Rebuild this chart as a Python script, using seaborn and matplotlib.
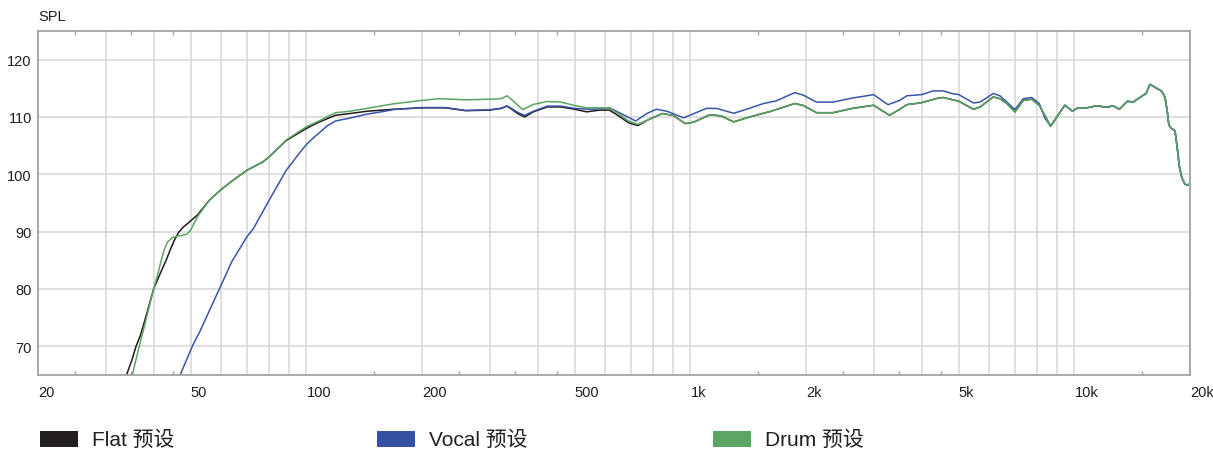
import numpy as np
import pandas as pd
import matplotlib
matplotlib.use("Agg")
import matplotlib.pyplot as plt
from matplotlib.patches import Rectangle
import seaborn as sns

# ---------------- data ----------------
flat_freq = [34.0, 35.2, 36.0, 37.0, 38.5, 40, 41.5, 43.3, 44.3, 45.3, 46.5, 47.8, 49.0, 52.0, 55.9, 60, 64.5, 70,
             77.2, 80, 88.6, 100, 107, 119, 129.6, 143.7, 168.7, 200, 230, 260, 300, 322, 333, 340,
             355, 370, 390, 424, 460, 500, 537, 580, 615, 640, 690, 730]
flat_db = [65.0, 67.8, 70.0, 72.0, 76.0, 80.0, 82.5, 85.3, 87.0, 88.5, 89.9, 90.8, 91.4, 92.9, 95.5, 97.35, 99.0, 100.7,
           102.2, 103.05, 105.9, 108.0, 109.0, 110.3, 110.6, 111.0, 111.35, 111.6, 111.6, 111.1, 111.2, 111.5, 111.9, 111.5,
           110.6, 110.0, 110.9, 111.75, 111.75, 111.35, 110.9, 111.2, 111.2, 110.5, 109.0, 108.5]

vocal_freq = [46.9, 50.6, 52.8, 58.3, 60, 63.9, 70, 72.8, 80, 88.6, 96.4, 100, 104, 107, 113, 119,
              129.6, 143.7, 160, 168.7, 200, 230, 260, 300, 322, 333, 340, 355, 370, 390, 424, 460,
              500, 544, 580, 615, 660, 720, 770, 815, 870, 960, 1100, 1170, 1297, 1400, 1550, 1670,
              1870, 1970, 2130, 2350, 2640, 3000, 3270, 3510, 3660, 4000, 4290, 4560, 4790, 5000,
              5460, 5680, 6150, 6400, 6670, 7000, 7360, 7740, 8100, 8380]
vocal_db = [65.0, 70.2, 72.6, 78.9, 80.7, 84.75, 89.1, 90.55, 95.5, 100.7, 103.9, 105.2, 106.3, 107.0, 108.4, 109.3,
            109.8, 110.5, 111.0, 111.3, 111.65, 111.65, 111.15, 111.25, 111.55, 111.95, 111.6, 110.8, 110.3, 111.0, 111.9, 111.9,
            111.5, 111.35, 111.4, 111.6, 110.6, 109.3, 110.6, 111.35, 111.0, 109.85, 111.5, 111.5, 110.65, 111.35, 112.35, 112.8,
            114.25, 113.8, 112.6, 112.6, 113.3, 113.9, 112.15, 112.9, 113.7, 113.9, 114.55, 114.55, 114.1, 113.9,
            112.45, 112.6, 114.1, 113.7, 112.6, 111.3, 113.2, 113.4, 112.35, 109.8]

drum_freq = [35.2, 36.7, 38.5, 40, 41.0, 41.8, 42.6, 43.5, 44.6, 46.0, 47.5, 48.9, 50, 52, 55.9, 60, 64.5, 70, 77.2,
             80, 88.6, 100, 107, 119, 129.6, 143.7, 168.7, 200, 222, 260, 300, 322, 333, 340, 366,
             390, 424, 460, 500, 537, 580, 615, 650, 690, 730]
drum_db = [65.0, 70.0, 75.5, 80.0, 82.5, 84.8, 86.8, 88.2, 88.9, 89.2, 89.35, 89.6, 90.3, 92.6, 95.5, 97.35, 99.0, 100.7, 102.2,
           103.05, 106.0, 108.3, 109.2, 110.75, 111.0, 111.5, 112.3, 112.9, 113.2, 113.0, 113.1, 113.2, 113.7, 113.2, 111.3,
           112.2, 112.7, 112.6, 112.0, 111.6, 111.6, 111.5, 110.6, 109.3, 108.7]

# segment shared by Flat and Drum (above ~750 Hz)
mid_freq = [770, 845, 900, 970, 1020, 1125, 1200, 1297, 1400, 1620, 1870, 1970, 2130, 2350, 2640, 3000,
            3300, 3510, 3660, 4000, 4420, 4560, 5000, 5460, 5680, 6150, 6400, 6670, 7000, 7360, 7740, 8100]
mid_db = [109.4, 110.6, 110.3, 108.85, 109.1, 110.4, 110.2, 109.15, 109.85, 111.0, 112.35, 112.0, 110.75, 110.75, 111.5, 112.05,
          110.3, 111.35, 112.15, 112.5, 113.3, 113.4, 112.75, 111.35, 111.75, 113.5, 113.2, 112.35, 110.9, 112.9, 113.1, 112.05]

# segment shared by all three presets (above ~8.4 kHz)
high_freq = [8670, 9000, 9440, 9890, 10140, 10760, 11430, 12130, 12620, 13090, 13740, 14230, 15110, 15370,
             15730, 16380, 16880, 17220, 17450, 17620, 17900, 18280, 18500, 18750, 19040, 19400, 19700, 20000]
high_db = [108.4, 110.0, 112.05, 111.0, 111.5, 111.6, 111.95, 111.7, 111.95, 111.35, 112.75, 112.6, 113.8, 114.1,
           115.7, 115.0, 114.5, 113.4, 111.0, 108.6, 108.0, 107.6, 105.0, 101.5, 99.4, 98.3, 98.1, 98.4]

series_names = ["Flat 预设", "Vocal 预设", "Drum 预设"]
series_colors = ["#1e1a1b", "#3a55a8", "#5aa462"]
legend_colors = ["#231f20", "#3551a3", "#5ba665"]

y_ticks = [70, 80, 90, 100, 110, 120]
x_label_ticks = [20, 50, 100, 200, 500, 1000, 2000, 5000, 10000, 20000]
x_labels = ["20", "50", "100", "200", "500", "1k", "2k", "5k", "10k", "20k"]
x_small_marks = [25, 35, 45, 150, 250, 350, 450, 1500, 2500, 3500, 4500, 15000]

# ---------------- build long data ----------------
curves = {
    series_names[0]: (flat_freq + mid_freq + high_freq, flat_db + mid_db + high_db),
    series_names[1]: (vocal_freq + high_freq, vocal_db + high_db),
    series_names[2]: (drum_freq + mid_freq + high_freq, drum_db + mid_db + high_db),
}
frames = []
for name, (f, d) in curves.items():
    frames.append(pd.DataFrame({"freq": f, "spl": d, "preset": name}))
df = pd.concat(frames, ignore_index=True)

# ---------------- style ----------------
sns.set_theme(style="white")
plt.rcParams["font.family"] = ["Liberation Sans", "Noto Sans CJK SC", "DejaVu Sans"]
text_color = "#231f20"
grid_color = "#d6d6d6"
frame_color = "#a3a3a3"

fig = plt.figure(figsize=(12.13, 4.52), dpi=100)
W, H = 1213, 452
ax = fig.add_axes([38 / W, (H - 376) / H, 1152 / W, 344 / H])

sns.lineplot(data=df, x="freq", y="spl", hue="preset", palette=dict(zip(series_names, series_colors)),
             estimator=None, sort=False, linewidth=1.1, ax=ax, legend=False)

ax.set_xscale("log")
ax.set_xlim(20, 20000)
ax.set_ylim(65, 125)

# gridlines at 1..9 x decade
grid_pos = []
for dec in [10, 100, 1000, 10000]:
    for m in range(1, 10):
        v = m * dec
        if 20 <= v <= 20000:
            grid_pos.append(v)
ax.set_xticks(grid_pos)
ax.set_xticklabels([x_labels[x_label_ticks.index(v)] if v in x_label_ticks else "" for v in grid_pos])
for lbl in ax.get_xticklabels():
    lbl.set_horizontalalignment("left")
ax.set_xticks(x_small_marks, minor=True)
ax.set_xticklabels([], minor=True)

ax.set_yticks(y_ticks)
ax.set_yticklabels([str(v) for v in y_ticks])

ax.grid(True, which="major", color=grid_color, linewidth=1.1)
ax.set_axisbelow(True)
ax.tick_params(axis="x", which="major", length=0, pad=7, labelsize=10.5, labelcolor=text_color)
ax.tick_params(axis="y", which="major", length=0, pad=4.5, labelsize=10.5, labelcolor=text_color)
ax.tick_params(axis="x", which="minor", direction="in", length=3, width=1, color=frame_color,
               top=True, bottom=True)
for s in ax.spines.values():
    s.set_visible(True)
    s.set_color(frame_color)
    s.set_linewidth(1.3)
ax.set_xlabel("")
ax.set_ylabel("")

fig.text(38 / W, 1 - 17 / H, "SPL", fontsize=10.5, color=text_color, ha="left", va="center")

# legend
leg_x = [40, 377, 713]
for x0, name, c in zip(leg_x, series_names, legend_colors):
    fig.add_artist(Rectangle((x0 / W, 1 - 448 / H), 38 / W, 16 / H, transform=fig.transFigure,
                             facecolor=c, edgecolor="none"))
    fig.text((x0 + 52) / W, 1 - 440 / H, name, fontsize=15, color=text_color, ha="left", va="center")

fig.savefig("out.png", dpi=100)
